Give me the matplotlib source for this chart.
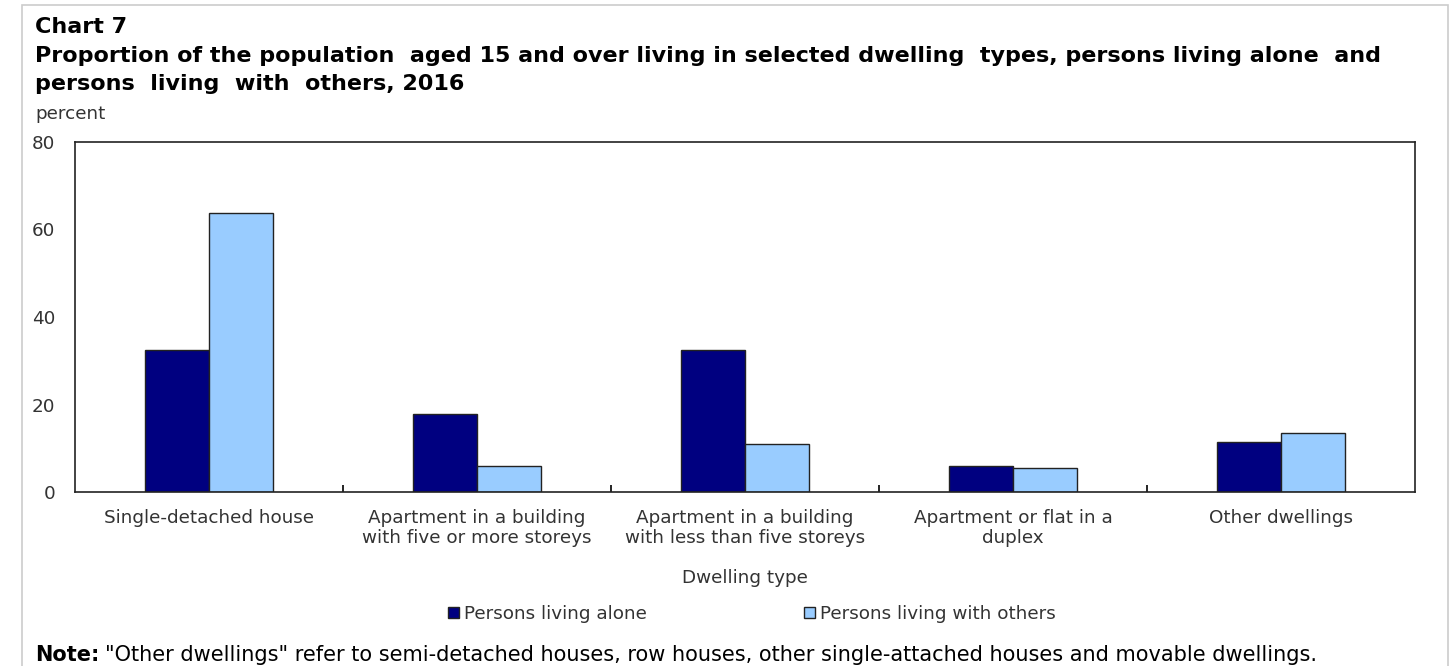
import numpy as np
import matplotlib.pyplot as plt
from matplotlib.patches import Rectangle, Patch

categories = [
    "Single-detached house",
    "Apartment in a building\nwith five or more storeys",
    "Apartment in a building\nwith less than five storeys",
    "Apartment or flat in a\nduplex",
    "Other dwellings",
]
living_alone = [32.5, 17.8, 32.5, 5.9, 11.4]
living_with_others = [63.8, 5.9, 11.0, 5.5, 13.5]
series_names = ["Persons living alone", "Persons living with others"]
y_ticks = [0, 20, 40, 60, 80]

dark_blue = "#000080"
light_blue = "#99ccff"
W, H = 1454, 666
fs = 13.2
txt_color = "#333333"

plt.rcParams["font.family"] = "DejaVu Sans"
fig = plt.figure(figsize=(W / 100, H / 100), dpi=100)

# outer light border
fig.patches.append(Rectangle((22 / W, -0.05), (1448 - 22) / W, 1.05 - 5 / H,
                             transform=fig.transFigure, fill=False,
                             edgecolor="#cccccc", linewidth=1.2))

ax = fig.add_axes([75 / W, 1 - 492 / H, (1415 - 75) / W, (492 - 142) / H])
x = np.arange(len(categories))
bw = 0.24
ax.bar(x - bw / 2, living_alone, bw, color=dark_blue, edgecolor="#222222", linewidth=1)
ax.bar(x + bw / 2, living_with_others, bw, color=light_blue, edgecolor="#222222", linewidth=1)

ax.set_xlim(-0.5, len(categories) - 0.5)
ax.set_ylim(0, 80)
ax.set_yticks(y_ticks)
ax.tick_params(axis="y", length=0, labelsize=fs, pad=14, colors=txt_color)
ax.set_xticks(x)
ax.set_xticklabels(categories, fontsize=fs, color=txt_color, linespacing=1.2)
ax.tick_params(axis="x", length=0, pad=12)
ax.set_xticks(x[:-1] + 0.5, minor=True)
ax.tick_params(axis="x", which="minor", length=5, direction="in", width=1.2)
for s in ax.spines.values():
    s.set_linewidth(1.2)
    s.set_color("#222222")

fig.text(35 / W, 1 - 27 / H, "Chart 7", fontsize=16, fontweight="bold", va="center")
fig.text(35 / W, 1 - 56 / H,
         "Proportion of the population  aged 15 and over living in selected dwelling  types, persons living alone  and",
         fontsize=16, fontweight="bold", va="center")
fig.text(35 / W, 1 - 84 / H, "persons  living  with  others, 2016",
         fontsize=16, fontweight="bold", va="center")
fig.text(35 / W, 1 - 114 / H, "percent", fontsize=fs, va="center", color=txt_color)

fig.text(745 / W, 1 - 578 / H, "Dwelling type", fontsize=fs, ha="center", va="center", color=txt_color)

handles = [Patch(facecolor=dark_blue, edgecolor="#222222"),
           Patch(facecolor=light_blue, edgecolor="#222222")]
fig.legend(handles, series_names, loc="center", bbox_to_anchor=(752 / W, 1 - 614 / H),
           ncol=2, frameon=False, fontsize=fs, handlelength=0.6, handleheight=0.6,
           handletextpad=0.25, columnspacing=8.6, labelcolor=txt_color)

note_label = fig.text(35 / W, 1 - 655 / H, "Note:", fontsize=15, fontweight="bold", va="center")
fig.canvas.draw()
bb = note_label.get_window_extent()
fig.text(bb.x1 / W + 6 / W, 1 - 655 / H,
         '"Other dwellings" refer to semi-detached houses, row houses, other single-attached houses and movable dwellings.',
         fontsize=15, va="center")

fig.savefig("out.png", dpi=100)
